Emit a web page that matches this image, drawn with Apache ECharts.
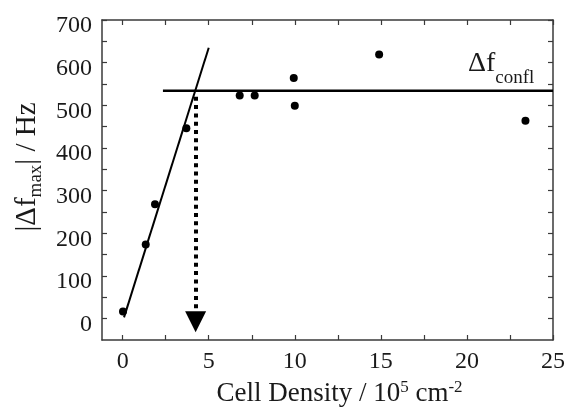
<!DOCTYPE html>
<html><head><meta charset="utf-8">
<script src="https://cdn.jsdelivr.net/npm/echarts@6/dist/echarts.min.js"></script>
<style>html,body{margin:0;padding:0;background:#fff}#c{width:569px;height:407px}</style>
</head><body><div id="c"></div>
<script>
// Data
const density = [0.02, 1.34, 1.88, 3.70, 6.80, 7.67, 9.94, 10.0, 14.9, 23.4];
const dfMax   = [17, 174, 268, 446, 523, 523, 564, 499, 619, 464];
const fitX = [0.08, 5.0];
const fitY = [3, 635];
const conflLevel = 534;
const conflRange = [2.34, 25];
const arrowX = 4.24;
const arrowRange = [520, -7];
const xTickLabels = [0, 5, 10, 15, 20, 25];
const xTicks = [0, 2.5, 5, 7.5, 10, 12.5, 15, 17.5, 20, 22.5, 25];
const yTickLabels = [0, 100, 200, 300, 400, 500, 600, 700];
const yTicks = [0, 50, 100, 150, 200, 250, 300, 350, 400, 450, 500, 550, 600, 650, 700];

const FONT = "'Liberation Serif', 'Times New Roman', serif";
const frame = '#3a3a3a';
const ink = '#1a1a1a';

const chart = echarts.init(document.getElementById('c'), null, {renderer: 'canvas'});

function xAxisDef(pos, labels) {
  return {
    type: 'value', position: pos, min: -1.2, max: 25,
    axisLine: {show: true, onZero: false, lineStyle: {color: frame, width: 1.5}},
    axisTick: {show: true, inside: true, length: 5, customValues: xTicks, lineStyle: {color: frame, width: 1.2}},
    axisLabel: labels ? {show: true, customValues: xTickLabels, fontFamily: FONT, fontSize: 24, color: ink, margin: 10} : {show: false},
    splitLine: {show: false}
  };
}
function yAxisDef(pos, labels) {
  return {
    type: 'value', position: pos, min: -50, max: 700,
    axisLine: {show: true, onZero: false, lineStyle: {color: frame, width: 1.5}},
    axisTick: {show: true, inside: true, length: 5, customValues: yTicks, lineStyle: {color: frame, width: 1.2}},
    axisLabel: labels ? {show: true, customValues: yTickLabels, fontFamily: FONT, fontSize: 24, color: ink, margin: 10, verticalAlign: 'top', lineHeight: 12} : {show: false},
    splitLine: {show: false}
  };
}

const xMain = xAxisDef('bottom', true);
xMain.name = '{a|Cell Density / 10}{s|5}{a| cm}{s|-2}';
xMain.nameLocation = 'middle';
xMain.nameGap = 39;
xMain.nameTextStyle = {
  padding: [0, 0, 0, 24],
  rich: {
    a: {fontFamily: FONT, fontSize: 27, color: ink, lineHeight: 30, verticalAlign: 'middle'},
    s: {fontFamily: FONT, fontSize: 17, color: ink, lineHeight: 30, verticalAlign: 'top'}
  }
};
const yMain = yAxisDef('left', true);
yMain.name = '{a||Δf}{b|max}{a|| / Hz}';
yMain.nameLocation = 'middle';
yMain.nameGap = 56;
yMain.nameTextStyle = {
  padding: [0, 0, 0, 26],
  rich: {
    a: {fontFamily: FONT, fontSize: 29, color: ink, lineHeight: 36, verticalAlign: 'middle'},
    b: {fontFamily: FONT, fontSize: 19, color: ink, lineHeight: 36, verticalAlign: 'bottom'}
  }
};

chart.setOption({
  backgroundColor: '#fff',
  animation: false,
  grid: {left: 102, top: 20, right: 16, bottom: 67, containLabel: false, outerBoundsMode: 'none'},
  xAxis: [xMain, xAxisDef('top', false)],
  yAxis: [yMain, yAxisDef('right', false)],
  series: [
    {
      name: 'fit', type: 'line', xAxisIndex: 0, yAxisIndex: 0,
      data: fitX.map((x, i) => [x, fitY[i]]),
      symbol: 'none', lineStyle: {color: '#000', width: 2}, z: 3
    },
    {
      name: 'confl', type: 'line', xAxisIndex: 0, yAxisIndex: 0,
      data: conflRange.map(x => [x, conflLevel]),
      symbol: 'none', lineStyle: {color: '#000', width: 2.5}, z: 3
    },
    {
      name: 'data', type: 'scatter', xAxisIndex: 0, yAxisIndex: 0,
      data: density.map((x, i) => [x, dfMax[i]]),
      symbol: 'circle', symbolSize: 8, itemStyle: {color: '#000', opacity: 1}, z: 4,
      markLine: {
        silent: true, animation: false,
        symbol: ['none', 'triangle'], symbolSize: [21, 21],
        label: {show: false},
        lineStyle: {color: '#000', width: 4, type: [4, 4.3], cap: 'butt', opacity: 1},
        data: [[{coord: [arrowX, arrowRange[0]]}, {coord: [arrowX, arrowRange[1]]}]]
      }
    }
  ],
  graphic: [{
    type: 'text', left: 468, top: 50, silent: true,
    style: {
      text: '{a|Δf}{b|confl}',
      rich: {
        a: {fontFamily: FONT, fontSize: 28, fill: ink, lineHeight: 44, verticalAlign: 'middle'},
        b: {fontFamily: FONT, fontSize: 19, fill: ink, lineHeight: 48, verticalAlign: 'bottom'}
      }
    }
  }]
});
</script></body></html>
